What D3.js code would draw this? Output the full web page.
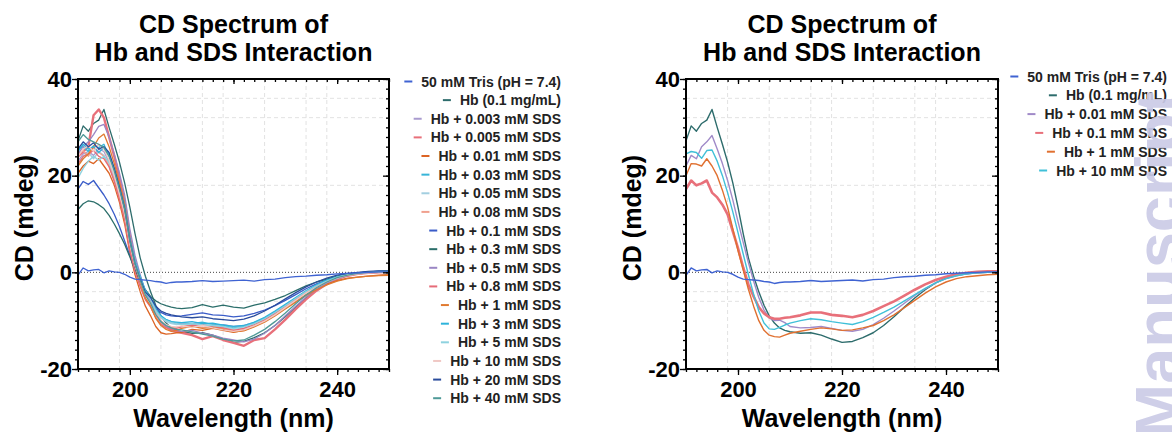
<!DOCTYPE html>
<html>
<head>
<meta charset="utf-8">
<script src="https://cdn.jsdelivr.net/npm/d3@7"></script>
<style>
  body { margin: 0; background: #fff; }
  svg text { font-family: "Liberation Sans", Arial, sans-serif; font-weight: bold; }
</style>
</head>
<body>
<script>
// Wavelength grid (nm): 1 nm steps up to 210, 2 nm steps after
const wavelengths = [190,191,192,193,194,195,196,197,198,199,200,201,202,203,204,205,206,207,208,209,210,
  212,214,216,218,220,222,224,226,228,230,232,234,236,238,240,242,244,246,248,250];

// CD (mdeg)
const tris = [-0.6,0.9,0.3,0.5,0.6,-0.1,0.3,0.1,0.0,-0.4,-1.0,-1.4,-1.5,-1.6,-1.7,-1.9,-2.0,-2.3,-2.1,-2.0,-2.0,
  -1.9,-1.7,-1.9,-1.8,-1.7,-1.6,-1.8,-1.5,-1.4,-1.1,-0.9,-0.8,-0.6,-0.5,-0.3,-0.2,-0.1,0.0,0.1,0.1];
const hbOnly = [27.2,30.3,29.2,30.8,31.5,33.7,30.0,26.5,22.8,18.5,13.5,8.0,3.0,-0.8,-4.0,-6.8,-9.0,-10.5,-11.5,-12.0,-12.3,
  -12.6,-12.5,-13.0,-13.8,-14.5,-14.3,-13.5,-12.5,-11.0,-9.2,-7.2,-5.3,-3.6,-2.2,-1.2,-0.6,-0.3,-0.1,0.0,0.1];
const sds0003 = [23.0,24.5,25.0,24.2,25.5,25.0,22.8,19.5,16.0,12.0,5.5,1.0,-1.5,-4.0,-5.5,-7.8,-9.2,-10.0,-10.4,-10.6,-10.5,
  -10.8,-10.4,-10.9,-10.8,-11.2,-11.0,-10.4,-9.6,-8.4,-7.0,-5.5,-4.0,-2.8,-1.8,-1.0,-0.5,-0.2,0.0,0.1,0.2];
const sds0005 = [24.0,25.0,26.0,32.5,33.7,32.0,28.0,24.0,19.5,14.5,7.5,2.0,-1.5,-4.5,-6.0,-8.5,-10.2,-11.2,-12.0,-12.3,-12.5,
  -13.0,-13.8,-13.2,-14.0,-14.6,-15.2,-14.0,-13.6,-11.8,-9.8,-7.6,-5.6,-3.8,-2.4,-1.4,-0.7,-0.3,-0.1,0.0,0.1];
const sds001 = [20.5,22.0,23.0,22.5,23.5,22.0,20.5,18.0,14.5,10.0,4.0,-0.5,-4.0,-7.0,-9.0,-11.2,-12.5,-12.8,-12.7,-12.5,-12.4,
  -11.8,-12.0,-11.6,-12.0,-12.4,-12.0,-11.2,-10.0,-8.8,-7.4,-6.0,-4.6,-3.4,-2.4,-1.7,-1.2,-1.0,-0.8,-0.6,-0.5];
const sds003 = [25.5,26.0,25.0,26.2,25.8,26.5,24.0,21.5,18.0,14.0,7.0,2.5,-1.0,-4.0,-5.5,-7.8,-9.0,-9.8,-10.2,-10.3,-10.4,
  -10.6,-10.3,-10.8,-11.0,-11.5,-11.2,-10.5,-9.5,-8.2,-6.8,-5.3,-3.9,-2.7,-1.7,-0.9,-0.4,-0.1,0.1,0.2,0.2];
const sds005 = [22.0,24.0,24.8,23.5,25.0,24.2,22.5,19.8,16.2,12.0,5.8,1.3,-1.8,-4.5,-6.0,-8.0,-9.4,-10.2,-10.6,-10.8,-10.7,
  -10.9,-10.6,-11.0,-11.3,-11.8,-11.5,-10.8,-9.8,-8.5,-7.0,-5.5,-4.1,-2.9,-1.9,-1.1,-0.5,-0.2,0.0,0.1,0.2];
const sds008 = [24.5,25.2,24.0,25.8,24.8,24.0,22.0,19.0,15.5,11.2,5.0,0.5,-2.8,-5.5,-7.0,-9.2,-10.6,-11.2,-11.5,-11.4,-11.2,
  -11.0,-11.4,-11.2,-11.6,-12.0,-11.8,-11.0,-9.9,-8.6,-7.1,-5.6,-4.2,-3.0,-2.0,-1.2,-0.6,-0.3,-0.1,0.0,0.1];
const sds01 = [17.2,18.8,18.2,19.0,17.5,16.0,14.2,12.0,9.5,6.5,3.5,0.5,-2.0,-4.3,-6.2,-7.5,-8.3,-8.8,-9.0,-9.1,-9.0,
  -8.7,-8.4,-8.8,-8.9,-9.2,-9.0,-8.5,-7.8,-6.9,-5.8,-4.6,-3.4,-2.4,-1.6,-0.9,-0.4,-0.1,0.1,0.2,0.2];
const sds03 = [13.0,14.2,14.8,14.6,14.0,13.2,11.8,10.0,8.0,5.8,3.2,0.5,-1.8,-3.6,-5.0,-5.9,-6.5,-6.9,-7.2,-7.4,-7.5,
  -7.3,-6.7,-7.2,-6.8,-7.2,-7.4,-6.8,-6.3,-5.6,-4.8,-3.8,-2.8,-2.0,-1.4,-0.8,-0.4,-0.2,0.0,0.1,0.1];
const sds05 = [24.5,26.0,27.0,28.5,30.2,30.6,28.0,24.5,20.5,16.0,9.0,3.5,-0.5,-4.0,-6.0,-8.6,-10.3,-11.2,-11.8,-12.0,-12.2,
  -12.0,-12.6,-13.0,-13.6,-14.0,-14.4,-13.8,-12.6,-11.0,-9.0,-7.0,-5.1,-3.5,-2.2,-1.3,-0.7,-0.3,-0.1,0.0,0.1];
const sds08 = [22.5,24.0,24.5,25.2,24.0,23.5,21.8,18.8,15.0,10.8,4.5,0.1,-3.0,-5.7,-7.2,-9.4,-10.8,-11.5,-11.8,-11.6,-11.3,
  -11.0,-10.8,-11.3,-11.5,-12.0,-11.6,-10.8,-9.8,-8.5,-7.0,-5.5,-4.1,-2.9,-1.9,-1.1,-0.5,-0.2,0.0,0.1,0.1];
const sds1 = [22.0,23.5,24.5,26.0,27.8,28.6,26.0,22.5,18.5,14.0,7.0,1.7,-2.0,-5.3,-7.0,-9.5,-11.0,-11.8,-12.2,-12.0,-11.6,
  -11.2,-11.6,-11.4,-11.8,-12.3,-12.1,-11.3,-10.3,-9.0,-7.6,-6.2,-4.8,-3.6,-2.6,-1.8,-1.3,-1.0,-0.8,-0.7,-0.6];
const sds3 = [25.0,26.5,25.5,26.0,24.8,25.8,24.5,21.0,17.5,13.5,7.0,2.3,-0.8,-3.7,-5.3,-7.6,-9.0,-9.8,-10.2,-10.5,-10.4,
  -10.2,-10.6,-10.5,-10.9,-11.2,-11.0,-10.3,-9.3,-8.0,-6.6,-5.2,-3.8,-2.6,-1.6,-0.9,-0.4,-0.1,0.1,0.2,0.3];
const sds5 = [19.5,21.5,23.0,24.0,23.2,24.0,22.8,20.2,16.8,12.8,6.5,2.0,-1.2,-4.1,-5.6,-7.9,-9.3,-10.0,-10.4,-10.6,-10.8,
  -10.6,-10.9,-11.0,-11.2,-11.6,-11.3,-10.6,-9.6,-8.3,-6.9,-5.4,-4.0,-2.8,-1.8,-1.0,-0.5,-0.2,0.0,0.1,0.2];
const sds10 = [24.0,25.5,26.2,25.0,26.5,25.5,23.2,20.0,16.3,12.2,6.0,1.5,-1.7,-4.7,-6.3,-8.5,-10.0,-10.8,-11.2,-11.3,-11.1,
  -11.4,-11.0,-11.5,-11.9,-12.2,-11.9,-11.1,-10.1,-8.8,-7.3,-5.8,-4.3,-3.1,-2.0,-1.2,-0.6,-0.3,-0.1,0.0,0.1];
const sds20 = [25.5,27.0,26.0,26.8,25.5,26.0,24.8,21.5,17.6,13.2,6.6,1.8,-1.4,-4.1,-5.2,-7.0,-8.0,-8.5,-8.8,-9.0,-9.2,
  -9.4,-9.2,-9.6,-9.8,-10.0,-9.7,-9.0,-8.0,-6.8,-5.5,-4.2,-3.0,-2.0,-1.2,-0.6,-0.2,0.0,0.2,0.3,0.3];
const sds40 = [27.0,28.5,27.5,27.0,26.5,25.8,24.0,21.0,17.2,13.0,6.5,1.7,-1.6,-4.7,-6.4,-8.7,-10.2,-11.0,-11.5,-11.8,-11.9,
  -12.3,-12.8,-13.2,-13.8,-14.2,-14.0,-13.0,-11.8,-10.2,-8.4,-6.5,-4.7,-3.2,-2.0,-1.1,-0.6,-0.2,0.0,0.1,0.2];

// second experiment (right panel)
const rSds001 = [22.0,24.2,23.5,26.0,27.0,28.3,25.5,22.5,19.0,15.0,10.5,6.2,2.0,-1.8,-5.2,-7.8,-9.4,-10.0,-9.9,-10.4,-11.2,
  -11.5,-11.4,-11.2,-11.6,-12.0,-12.2,-11.8,-10.8,-9.5,-8.0,-6.4,-4.8,-3.4,-2.2,-1.3,-0.7,-0.3,-0.1,0.0,0.1];
const rSds01 = [17.2,19.0,18.0,18.4,19.0,16.5,15.5,14.0,12.0,8.5,5.0,1.0,-2.5,-5.0,-7.2,-8.5,-9.3,-9.6,-9.6,-9.4,-9.3,
  -8.9,-8.3,-8.3,-8.8,-9.0,-9.3,-8.8,-8.0,-7.0,-6.0,-4.8,-3.6,-2.5,-1.6,-0.9,-0.4,-0.1,0.1,0.2,0.2];
const rSds1 = [20.0,22.5,22.4,22.0,23.5,22.0,20.0,17.0,13.5,9.0,4.5,0.5,-3.5,-7.0,-10.0,-12.0,-13.0,-13.3,-13.4,-13.0,-12.6,
  -12.2,-11.8,-11.5,-11.7,-12.0,-11.9,-11.5,-11.0,-10.0,-8.8,-7.3,-5.8,-4.3,-3.0,-2.0,-1.3,-0.9,-0.7,-0.5,-0.4];
const rSds10 = [24.5,25.0,24.8,23.6,25.2,25.3,23.0,20.0,16.5,12.5,8.2,3.8,-0.5,-4.5,-8.0,-10.5,-11.7,-11.8,-11.4,-10.9,-10.5,
  -10.0,-9.6,-9.8,-10.2,-10.5,-10.8,-10.2,-9.3,-8.3,-7.2,-5.9,-4.6,-3.3,-2.2,-1.3,-0.7,-0.3,-0.1,0.0,0.1];

const leftLabels = ['50 mM Tris (pH = 7.4)', 'Hb (0.1 mg/mL)', 'Hb + 0.003 mM SDS', 'Hb + 0.005 mM SDS',
  'Hb + 0.01 mM SDS', 'Hb + 0.03 mM SDS', 'Hb + 0.05 mM SDS', 'Hb + 0.08 mM SDS', 'Hb + 0.1 mM SDS',
  'Hb + 0.3 mM SDS', 'Hb + 0.5 mM SDS', 'Hb + 0.8 mM SDS', 'Hb + 1 mM SDS', 'Hb + 3 mM SDS',
  'Hb + 5 mM SDS', 'Hb + 10 mM SDS', 'Hb + 20 mM SDS', 'Hb + 40 mM SDS'];
const leftSeries = [tris, hbOnly, sds0003, sds0005, sds001, sds003, sds005, sds008, sds01,
  sds03, sds05, sds08, sds1, sds3, sds5, sds10, sds20, sds40];

const rightLabels = ['50 mM Tris (pH = 7.4)', 'Hb (0.1 mg/mL)', 'Hb + 0.01 mM SDS', 'Hb + 0.1 mM SDS',
  'Hb + 1 mM SDS', 'Hb + 10 mM SDS'];
const rightSeries = [tris, hbOnly, rSds001, rSds01, rSds1, rSds10];

const xTicks = [200, 220, 240];
const yTicks = [-20, 0, 20, 40];
const gridX = [198, 206, 214, 218, 226, 234, 238];
const gridY = [36, 32, 18, -4, -6];
const titleLines = ['CD Spectrum of', 'Hb and SDS Interaction'];

// styles
const leftColors = ['#3f63d2', '#2d6c6c', '#a99bcf', '#e8707a', '#dc6424', '#38b5d8', '#a3cfe0', '#f0a08e',
  '#3a5cc8', '#2b6e6a', '#9a86c4', '#e66b78', '#e07a30', '#2db3db', '#8ed2df', '#f0c8c4', '#2a4c9c', '#4f9a98'];
const rightColors = ['#3f63d2', '#2d6c6c', '#a08ac8', '#e8707a', '#e07030', '#40c0d8'];
const leftWidths = leftColors.map((c, i) => i === 3 ? 2.4 : 1.3);
const rightWidths = rightColors.map((c, i) => i === 3 ? 2.6 : 1.4);

// Canvas setup
const canvasWidth = 1172;
const canvasHeight = 432;
const svg = d3.select('body').append('svg')
    .attr('width', canvasWidth)
    .attr('height', canvasHeight);

const plotTop = 79, plotBottom = 369;

function drawPanel(p) {
    const x = d3.scaleLinear().domain([190, 250]).range([p.left, p.right]);
    const y = d3.scaleLinear().domain([-20, 40]).range([plotBottom, plotTop]);
    const g = svg.append('g');

    // faint dashed grid
    g.selectAll('.gx').data(gridX).join('line')
        .attr('x1', d => x(d)).attr('x2', d => x(d))
        .attr('y1', plotTop).attr('y2', plotBottom)
        .attr('stroke', '#e2e2e2').attr('stroke-dasharray', '4,3');
    g.selectAll('.gy').data(gridY).join('line')
        .attr('y1', d => y(d)).attr('y2', d => y(d))
        .attr('x1', p.left).attr('x2', p.right)
        .attr('stroke', '#e2e2e2').attr('stroke-dasharray', '4,3');

    // zero line
    g.append('line')
        .attr('x1', p.left).attr('x2', p.right)
        .attr('y1', y(0)).attr('y2', y(0))
        .attr('stroke', '#444').attr('stroke-width', 1).attr('stroke-dasharray', '1,2');

    // curves (buffer drawn last, on top)
    const line = d3.line().x((d, i) => x(wavelengths[i])).y(d => y(d));
    const order = d3.range(1, p.series.length).concat([0]);
    g.append('g').selectAll('path').data(order).join('path')
        .attr('d', i => line(p.series[i]))
        .attr('fill', 'none')
        .attr('stroke', i => p.colors[i])
        .attr('stroke-width', i => p.widths[i])
        .attr('stroke-linejoin', 'round');

    // axes
    const styleText = (sel) => sel.selectAll('text')
        .attr('font-size', 22).attr('font-family', null).attr('fill', '#000');
    const clean = (sel) => { sel.select('.domain').remove(); sel.selectAll('line').attr('stroke', '#000').attr('stroke-width', 1.3); };
    const minorX = d3.range(190, 251, 2);
    const minorY = d3.range(-20, 41, 2);
    const plain = d => String(d);

    g.append('g').attr('transform', `translate(0,${plotBottom})`)
        .call(d3.axisBottom(x).tickValues(minorX).tickSize(3).tickFormat('')).call(clean);
    g.append('g').attr('transform', `translate(0,${plotBottom})`)
        .call(d3.axisBottom(x).tickValues(xTicks).tickSize(6).tickPadding(6).tickFormat(plain))
        .call(clean).call(styleText);
    g.append('g').attr('transform', `translate(0,${plotTop})`)
        .call(d3.axisTop(x).tickValues(minorX).tickSize(-3).tickFormat('')).call(clean);
    g.append('g').attr('transform', `translate(0,${plotTop})`)
        .call(d3.axisTop(x).tickValues(xTicks).tickSize(-5).tickFormat('')).call(clean);

    g.append('g').attr('transform', `translate(${p.left},0)`)
        .call(d3.axisLeft(y).tickValues(minorY).tickSize(3).tickFormat('')).call(clean);
    g.append('g').attr('transform', `translate(${p.left},0)`)
        .call(d3.axisLeft(y).tickValues(yTicks).tickSize(6).tickPadding(0).tickFormat(plain))
        .call(clean).call(styleText);
    g.append('g').attr('transform', `translate(${p.right},0)`)
        .call(d3.axisRight(y).tickValues(minorY).tickSize(-3).tickFormat('')).call(clean);
    g.append('g').attr('transform', `translate(${p.right},0)`)
        .call(d3.axisRight(y).tickValues(yTicks).tickSize(-6).tickFormat('')).call(clean);

    // frame
    g.append('rect')
        .attr('x', p.left).attr('y', plotTop)
        .attr('width', p.right - p.left).attr('height', plotBottom - plotTop)
        .attr('fill', 'none').attr('stroke', '#000').attr('stroke-width', 2);

    // title
    const cx = (p.left + p.right) / 2;
    g.selectAll('.title').data(titleLines).join('text')
        .attr('x', cx).attr('y', (d, i) => 33 + i * 28)
        .attr('text-anchor', 'middle').attr('font-size', 25)
        .text(d => d);

    // axis titles
    g.append('text')
        .attr('x', cx).attr('y', 427)
        .attr('text-anchor', 'middle').attr('font-size', 25)
        .text('Wavelength (nm)');
    g.append('text')
        .attr('transform', `translate(${p.left - 45},${(plotTop + plotBottom) / 2 - 6}) rotate(-90)`)
        .attr('text-anchor', 'middle').attr('font-size', 25)
        .text('CD (mdeg)');

    // legend
    const leg = g.append('g');
    p.labels.forEach((lab, i) => {
        const ty = p.legTop + i * p.legStep;
        const t = leg.append('text')
            .attr('x', p.legRight).attr('y', ty)
            .attr('text-anchor', 'end').attr('font-size', 14)
            .attr('fill', '#222')
            .text(lab);
        const w = t.node().getComputedTextLength();
        const x1 = p.legRight - w - 9;
        leg.append('line')
            .attr('x1', x1 - 8).attr('x2', x1)
            .attr('y1', ty - 5).attr('y2', ty - 5)
            .attr('stroke', p.colors[i]).attr('stroke-width', 2);
    });
}

drawPanel({ left: 78, right: 389, series: leftSeries, labels: leftLabels, colors: leftColors, widths: leftWidths,
    legRight: 561, legTop: 86.5, legStep: 18.63 });
drawPanel({ left: 686, right: 998, series: rightSeries, labels: rightLabels, colors: rightColors, widths: rightWidths,
    legRight: 1167, legTop: 81.5, legStep: 18.8 });

// watermark along the right edge
svg.append('text')
    .attr('transform', 'translate(1181,438) rotate(-90)')
    .attr('font-size', 65)
    .attr('fill', '#cbcbe7')
    .attr('opacity', 0.92)
    .text('Manuscript');
</script>
</body>
</html>
